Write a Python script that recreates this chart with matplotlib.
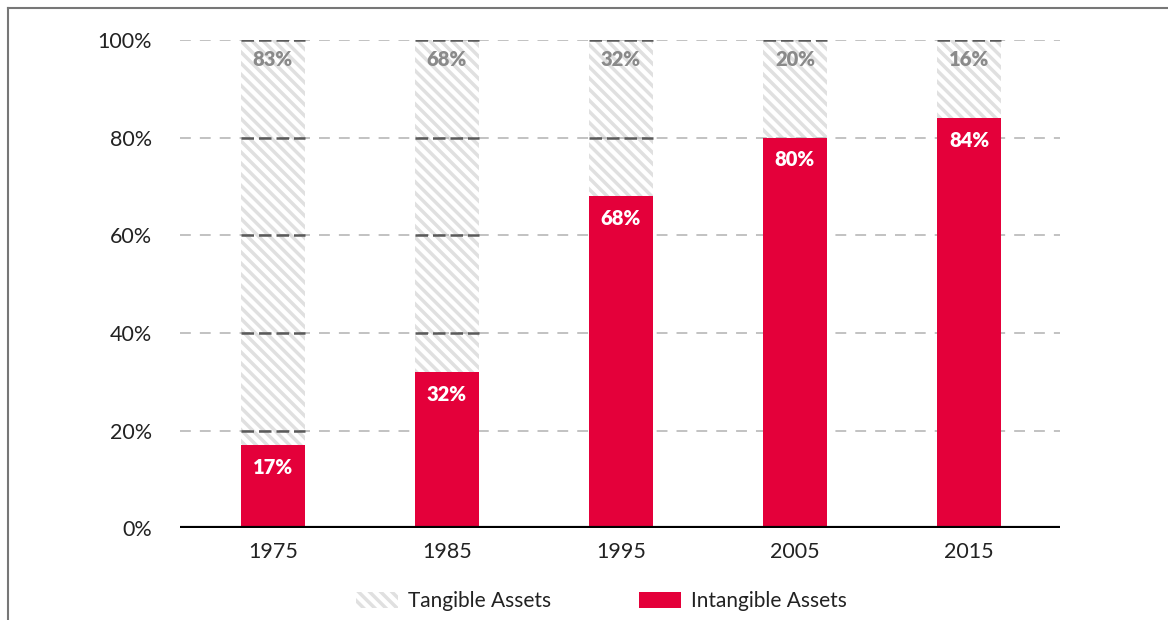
import matplotlib.pyplot as plt
from matplotlib.patches import Patch
from matplotlib.lines import Line2D

plt.rcParams['font.family'] = ['Lato', 'DejaVu Sans']
plt.rcParams['hatch.linewidth'] = 2.5
plt.rcParams['hatch.color'] = '#e0e0e0'

anos = ['1975', '1985', '1995', '2005', '2015']
intangible = [17, 32, 68, 80, 84]
tangible = [83, 68, 32, 20, 16]
yticks = [0, 20, 40, 60, 80, 100]

vermelho = '#e4003a'
largura = 0.37

fig = plt.figure(figsize=(11.68, 6.2), dpi=100)
ax = fig.add_axes([0.154, 0.148, 0.7535, 0.787])

x = list(range(len(anos)))

# barras tracejadas (tangible) em cima das vermelhas
ax.bar(x, tangible, largura, bottom=intangible, color='white',
       hatch='\\\\\\', edgecolor='#e0e0e0', linewidth=0, zorder=1)
ax.bar(x, intangible, largura, color=vermelho, linewidth=0, zorder=3)

# grade
for y in yticks[1:]:
    ax.axhline(y, color='#bdbdbd', lw=1.3, ls=(0, (6, 5)), zorder=2)
    for i in x:
        if y > intangible[i]:
            ax.plot([i - largura / 2, i + largura / 2], [y, y], color='#5a5a5a',
                    lw=1.8, ls=(0, (5, 2)), zorder=2)
ax.axhline(0, color='black', lw=3, zorder=4)

for i in x:
    ax.text(i, 96, f'{tangible[i]}%', ha='center', va='center',
            color='#8a8a8a', fontsize=14.5, fontweight='heavy', zorder=5)
    ax.text(i, intangible[i] - 4.5, f'{intangible[i]}%',
            ha='center', va='center', color='white', fontsize=14.5,
            fontweight='heavy', zorder=5)

ax.set_xlim(-0.534, 4.523)
ax.set_ylim(0, 100)
ax.set_xticks(x)
ax.set_xticklabels(anos)
ax.set_yticks(yticks)
ax.set_yticklabels([f'{v}%' for v in yticks])
ax.tick_params(length=0, labelsize=15.5, labelcolor='#222222')
ax.tick_params(axis='y', pad=20)
ax.tick_params(axis='x', pad=10)
for s in ax.spines.values():
    s.set_visible(False)

handles = [Patch(facecolor='white', hatch='\\\\\\', edgecolor='#e0e0e0', linewidth=0,
                 label='Tangible Assets'),
           Patch(facecolor=vermelho, linewidth=0, label='Intangible Assets')]
fig.legend(handles=handles, loc='center', bbox_to_anchor=(0.515, 0.03), ncol=2,
           frameon=False, fontsize=15, handlelength=2.0, handleheight=0.8,
           handletextpad=0.5, columnspacing=4.2, labelcolor='#222222')

# moldura
fig.add_artist(Line2D([8 / 1168, 8 / 1168], [0, 1 - 8 / 620], color='#777777', lw=1.5))
fig.add_artist(Line2D([8 / 1168, 1], [1 - 8 / 620, 1 - 8 / 620], color='#777777', lw=1.5))

fig.savefig('out.png', dpi=100)
